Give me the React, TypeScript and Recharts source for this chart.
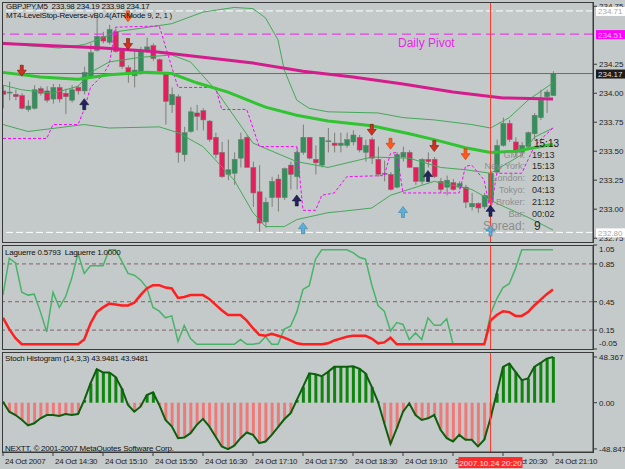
import React from "react";
import { ComposedChart, Bar, Line, XAxis, YAxis, ReferenceLine, Cell } from "recharts";

// GBPJPY M5, one entry per bar (13:50 .. 21:10)
const opens = [
  234.02, 234.01, 233.99, 233.98, 233.86, 233.87, 234.04, 234.02, 233.95, 234.05,
  234.0, 233.94, 234.05, 234.02, 234.14, 234.37, 234.49, 234.44, 234.53, 234.37,
  234.22, 234.15, 234.18, 234.37, 234.41, 234.29, 234.18, 233.9, 233.97, 233.47,
  233.67, 233.83, 233.85, 233.76, 233.62, 233.49, 233.3, 233.31, 233.44, 233.62,
  233.36, 233.15, 232.89, 233.1, 233.26, 233.1, 233.38, 233.28, 233.49, 233.62,
  233.43, 233.38, 233.59, 233.57, 233.55, 233.55, 233.58, 233.62, 233.49, 233.6,
  233.43, 233.3, 233.3, 233.19, 233.45, 233.49, 233.36, 233.24, 233.43, 233.43,
  233.24, 233.19, 233.23, 233.19, 233.19, 233.02, 233.05, 233.02, 233.06, 233.32,
  233.55, 233.74, 233.58, 233.49, 233.54, 233.65, 233.79, 233.97, 233.98,
];
const highs = [
  234.07, 234.1, 234.03, 234.0, 233.94, 234.07, 234.06, 234.06, 234.08, 234.08,
  234.04, 234.07, 234.07, 234.23, 234.43, 234.67, 234.53, 234.59, 234.56, 234.37,
  234.24, 234.37, 234.4, 234.48, 234.43, 234.3, 234.18, 234.05, 233.99, 233.71,
  233.88, 233.9, 233.87, 233.77, 233.66, 233.58, 233.6, 233.49, 233.66, 233.64,
  233.41, 233.38, 233.1, 233.28, 233.3, 233.36, 233.41, 233.53, 233.73, 233.62,
  233.55, 233.62, 233.7, 233.66, 233.66, 233.66, 233.68, 233.64, 233.6, 233.62,
  233.54, 233.42, 233.32, 233.49, 233.54, 233.51, 233.36, 233.44, 233.49, 233.45,
  233.27, 233.29, 233.26, 233.24, 233.21, 233.14, 233.06, 233.14, 233.33, 233.6,
  233.79, 233.77, 233.62, 233.58, 233.67, 233.83, 234.03, 234.03, 234.19,
];
const lows = [
  233.87, 233.94, 233.94, 233.86, 233.84, 233.86, 233.98, 233.92, 233.91, 233.92,
  233.82, 233.92, 233.99, 233.99, 234.13, 234.36, 234.43, 234.42, 234.35, 234.21,
  234.09, 234.05, 234.16, 234.35, 234.28, 234.18, 233.73, 233.83, 233.4, 233.41,
  233.66, 233.68, 233.68, 233.58, 233.44, 233.27, 233.25, 233.21, 233.36, 233.36,
  233.02, 232.8, 232.84, 233.02, 232.98, 233.08, 233.17, 233.17, 233.47, 233.43,
  233.3, 233.36, 233.49, 233.49, 233.49, 233.53, 233.55, 233.49, 233.41, 233.39,
  233.28, 233.24, 233.16, 233.18, 233.41, 233.36, 233.21, 233.21, 233.36, 233.27,
  233.14, 233.12, 233.16, 233.17, 233.01, 232.99, 232.97, 233.0, 232.99, 233.31,
  233.54, 233.58, 233.45, 233.45, 233.53, 233.6, 233.77, 233.83, 233.98,
];
const closes = [
  233.99, 234.01, 233.97, 233.87, 233.89, 234.03, 234.0, 233.94, 234.05, 233.95,
  233.97, 234.03, 234.02, 234.18, 234.35, 234.49, 234.45, 234.55, 234.36, 234.23,
  234.18, 234.2, 234.37, 234.4, 234.3, 234.19, 233.93, 233.99, 233.49, 233.66,
  233.84, 233.8, 233.77, 233.6, 233.47, 233.28, 233.34, 233.43, 233.6, 233.36,
  233.14, 232.88, 233.06, 233.24, 233.1, 233.35, 233.3, 233.49, 233.62, 233.44,
  233.4, 233.62, 233.59, 233.55, 233.57, 233.6, 233.64, 233.51, 233.55, 233.44,
  233.3, 233.31, 233.17, 233.47, 233.49, 233.36, 233.24, 233.43, 233.41, 233.28,
  233.17, 233.25, 233.17, 233.22, 233.06, 233.05, 233.01, 233.12, 233.31, 233.55,
  233.74, 233.6, 233.49, 233.55, 233.66, 233.81, 233.94, 234.01, 234.17,
];

// overlays on the price panel: [bar index, price]
const magentaMA = [
  [0, 234.43], [8, 234.41], [16, 234.39], [24, 234.36], [32, 234.31], [40, 234.26],
  [48, 234.19], [56, 234.14], [64, 234.08], [72, 234.01], [80, 233.96], [88, 233.95],
];
const greenMA = [
  [0, 234.18], [6, 234.14], [12, 234.12], [17, 234.16], [23, 234.18], [27, 234.17],
  [31, 234.09], [36, 234.01], [42, 233.88], [47, 233.81], [52, 233.76], [59, 233.72],
  [65, 233.65], [69, 233.6], [74, 233.53], [78, 233.49], [82, 233.5], [85, 233.53], [88, 233.56],
];
const upperBand = [
  [0, 234.44], [4, 234.41], [9, 234.39], [13, 234.42], [16, 234.48], [18, 234.53],
  [22, 234.56], [27, 234.6], [32, 234.7], [37, 234.74], [40, 234.73], [42, 234.65],
  [44, 234.46], [45, 234.2], [47, 233.94], [49, 233.87], [52, 233.84], [60, 233.83],
  [64, 233.79], [69, 233.77], [75, 233.73], [78, 233.7], [81, 233.79], [84, 233.94], [88, 234.09],
];
const middleBand = [
  [0, 234.07], [3, 234.03], [8, 234.0], [12, 234.06], [14, 234.18], [17, 234.27],
  [22, 234.31], [27, 234.33], [30, 234.27], [34, 234.03], [40, 233.57], [47, 233.41],
  [52, 233.36], [59, 233.45], [65, 233.44], [70, 233.36], [74, 233.34], [78, 233.31],
  [83, 233.47], [85, 233.62], [88, 233.7],
];
const lowerBand = [
  [0, 233.73], [4, 233.67], [13, 233.73], [17, 233.7], [25, 233.71], [28, 233.66],
  [32, 233.54], [37, 233.25], [40, 232.97], [42, 232.85], [45, 232.85], [47, 232.91],
  [52, 232.97], [54, 232.98], [59, 233.01], [62, 233.12], [69, 233.24], [75, 233.17],
  [79, 233.05], [84, 232.93], [88, 232.82],
];
const levelStop = [
  [0, 233.61], [7, 233.61], [8, 233.73], [12, 233.73], [13, 233.86], [14, 234.05],
  [16, 234.16], [17, 234.25], [18, 234.57], [25, 234.58], [28, 234.05], [34, 234.05],
  [35, 233.86], [39, 233.86], [41, 233.54], [47, 233.54], [48, 232.99], [50, 232.99],
  [51, 233.12], [53, 233.14], [55, 233.28], [61, 233.29], [62, 233.48], [63, 233.49],
  [64, 233.14], [73, 233.14], [74, 233.37], [75, 233.38], [77, 233.25], [78, 232.97],
  [79, 233.31], [83, 233.31], [85, 233.54], [86, 233.6], [88, 233.7],
];
const sellArrows = [[3, 234.19], [20, 234.42], [59, 233.68], [69, 233.54]];
const sellArrows2 = [[20, 234.66], [62, 233.56], [74, 233.47]];
const buyArrows = [[13, 233.91], [47, 233.08], [68, 233.29], [78, 232.99]];
const buyArrows2 = [[48, 232.84], [64, 232.98], [78, 232.82]];
const priceTicks = [232.75, 233.0, 233.25, 233.5, 233.75, 234.0, 234.25, 234.75];
const priceTags = [
  { p: 234.71, text: "234.71", bg: "#ffffff", fg: "#a8a8a8" },
  { p: 234.51, text: "234.51", bg: "#ff00ff", fg: "#ffc8ff" },
  { p: 234.17, text: "234.17", bg: "#1c1c1c", fg: "#dcdcdc" },
  { p: 232.8, text: "232.80", bg: "#ffffff", fg: "#a8a8a8" },
];

// Laguerre panel
const lagRed = [
  0.28, 0.16, 0.065, 0, 0, 0, 0, 0, 0, 0, 0, 0, 0, 0.05, 0.22, 0.34, 0.39, 0.43, 0.42, 0.41,
  0.41, 0.44, 0.52, 0.59, 0.625, 0.625, 0.6, 0.59, 0.49, 0.5, 0.52, 0.52, 0.52, 0.48, 0.42, 0.36,
  0.31, 0.31, 0.31, 0.25, 0.17, 0.1, 0.09, 0.11, 0.09, 0.07, 0.04, 0.01, 0, 0, 0, 0, 0.01, 0.04,
  0.06, 0.08, 0.09, 0.09, 0.09, 0.06, 0.01, 0.02, 0.07, 0, 0, 0, 0, 0, 0, 0, 0, 0, 0, 0, 0, 0,
  0, 0, 0.25, 0.31, 0.35, 0.34, 0.3, 0.3, 0.34, 0.41, 0.47, 0.53, 0.58,
];
const lagGreen = [
  0.52, 0.91, 0.86, 0.55, 0.52, 0.53, 0.34, 0.13, 0.55, 0.39, 0.5, 0.7, 0.96, 0.75, 0.83, 0.83,
  0.83, 1, 1, 0.88, 0.75, 0.73, 0.68, 0.6, 0.39, 0.35, 0.28, 0.3, 0.03, 0.2, 0.06, 0, 0, 0, 0, 0,
  0, 0, 0.05, 0, 0, 0.01, 0.08, 0, 0, 0.16, 0.19, 0.34, 0.58, 0.62, 0.9, 1, 1, 1, 1, 1, 0.97,
  0.92, 0.9, 0.63, 0.41, 0.35, 0.14, 0.23, 0.21, 0.05, 0.12, 0.05, 0.28, 0.2, 0.2, 0.27, 0, 0, 0,
  0, 0, 0, 0.32, 0.48, 0.6, 0.64, 0.8, 1, 1, 1, 1, 1, 1,
];
const lagLevels = [0.85, 0.45, 0.15];
const lagTicks = [-0.05, 0.15, 0.45, 0.85, 1.05];

// Stoch histogram panel
const stochVals = [
  1, -9.5, -13, -18, -24, -21.7, -16.5, -13, -13, -14, -11.9, -13, -12, 2.8, 20.4, 35.4, 32, 32,
  27.3, 15, -2.4, -9.5, -4.2, 8.1, 10.9, -2.4, -18.2, -25, -37.5, -36.8, -32.2, -23.4, -17.1, -25,
  -35.7, -46.2, -49, -45.5, -37.5, -31.5, -34, -42.7, -41, -34, -25.9, -17.5, -11.2, 2.8, 16.8, 31,
  30, 28, 32.6, 37.9, 37.9, 37.9, 38.6, 36.1, 30.9, 16.8, 1, -21.7, -43.4, -27, -9.5, -0.6, -13,
  -18.2, -16.5, -13, -28.7, -37.5, -41, -34, -39.2, -39.2, -46.2, -39.2, -16.5, 9.9, 37.9, 41.4,
  32.6, 23.9, 25.6, 37.9, 42, 46.6, 48.4,
];
const stochTicks = [-48.8478, 0, 48.367];
const stochTickLabels = ["-48.8478", "0.00", "48.367"];

const timeTicks = [0, 8, 16, 24, 32, 40, 48, 56, 64, 72, 80, 88];
const timeLabels = [
  "24 Oct 2007", "24 Oct 14:30", "24 Oct 15:10", "24 Oct 15:50", "24 Oct 16:30", "24 Oct 17:10",
  "24 Oct 17:50", "24 Oct 18:30", "24 Oct 19:10", "24 Oct 19:50", "24 Oct 20:30", "24 Oct 21:10",
];
const cursorBar = 78;
const cursorLabel = "2007.10.24 20:20";

const clockLabels = ["GMT:", "New York:", "London:", "Tokyo:", "Broker:", "Bar:"];
const clockValues = ["19:13", "15:13", "20:13", "04:13", "21:12", "00:02"];

const BG = "#c4caca";
const FONT = '"Liberation Sans", Arial, sans-serif';
const X_DOMAIN: [number, number] = [-0.16, 94.4];
const PRICE_DOMAIN: [number, number] = [232.717, 234.787];
const LAG_DOMAIN: [number, number] = [-0.0501, 1.0501];
const STOCH_DOMAIN: [number, number] = [-52.1, 53.6];

const pts = (arr: number[][]) => arr.map(([i, v]) => ({ i, v }));
const candles = opens.map((o, i) => ({ i, open: o, high: highs[i], low: lows[i], close: closes[i] }));
const lagData = lagRed.map((r, i) => ({ i, red: r, green: lagGreen[i] }));
const stochData = stochVals.map((v, i) => ({ i, v }));

const Candle = (props: any) => {
  const { x, y, width, height, payload } = props;
  if (x == null || !payload) return null;
  const top = Math.min(y, y + height);
  const h = Math.abs(height);
  const { open, close, high, low } = payload;
  const k = h / (high - low);
  const py = (v: number) => top + (high - v) * k;
  const up = close >= open;
  const bTop = py(Math.max(open, close));
  const bBot = py(Math.min(open, close));
  const cx = x + width / 2;
  return (
    <g>
      <line x1={cx} x2={cx} y1={top} y2={top + h} stroke="#7e7e76" strokeWidth={1} />
      <rect
        x={x}
        y={bTop}
        width={width}
        height={Math.max(1, bBot - bTop)}
        fill={up ? "#33905a" : "#e41f5a"}
        stroke="#707872"
        strokeWidth={0.5}
      />
    </g>
  );
};

const Arrow = ({ cx, cy, dir, fill, edge }: any) => {
  if (cx == null || cy == null) return null;
  const d =
    dir === "down"
      ? `M${cx - 1.5},${cy - 6} L${cx + 1.5},${cy - 6} L${cx + 1.5},${cy - 1} L${cx + 4.5},${cy - 1} L${cx},${cy + 5} L${cx - 4.5},${cy - 1} L${cx - 1.5},${cy - 1} Z`
      : `M${cx - 1.5},${cy + 6} L${cx + 1.5},${cy + 6} L${cx + 1.5},${cy + 1} L${cx + 4.5},${cy + 1} L${cx},${cy - 5} L${cx - 4.5},${cy + 1} L${cx - 1.5},${cy + 1} Z`;
  return <path d={d} fill={fill} stroke={edge} strokeWidth={0.6} />;
};

const arrowDot = (dir: string, fill: string, edge: string) => (p: any) =>
  <Arrow key={`${dir}${fill}${p.index}`} cx={p.cx} cy={p.cy} dir={dir} fill={fill} edge={edge} />;

const PriceTag = ({ viewBox, text, bg, fg }: any) => {
  if (!viewBox) return null;
  const x = viewBox.x + viewBox.width + 3;
  const y = viewBox.y;
  return (
    <g>
      <rect x={x} y={y - 4} width={29} height={9} fill={bg} />
      <text x={x + 2} y={y + 3.5} fontSize={8} fill={fg}>{text}</text>
    </g>
  );
};

const TimeTag = ({ viewBox }: any) => {
  if (!viewBox) return null;
  const x = viewBox.x;
  const y = viewBox.y + viewBox.height;
  return (
    <g>
      <rect x={x - 32} y={y + 5} width={64} height={11} fill="#ff2b2b" />
      <text x={x} y={y + 13.5} fontSize={8} fill="#ffe8e8" textAnchor="middle">{cursorLabel}</text>
    </g>
  );
};

const LagTick = ({ x, y, payload }: any) => {
  const v = payload.value;
  const dy = v >= 1.0 ? 7 : v < 0 ? -3 : 3;
  return <text x={x} y={y + dy} fontSize={8} fill="#1e1e1e">{v.toFixed(2)}</text>;
};

const StochTick = ({ x, y, payload }: any) => (
  <text x={x} y={y + 3} fontSize={8} fill="#1e1e1e">
    {stochTickLabels[stochTicks.indexOf(payload.value)]}
  </text>
);

const TimeTick = ({ x, y, payload }: any) => (
  <text x={x + 2} y={y + 8} fontSize={8} letterSpacing={-0.3} fill="#1e1e1e">
    {timeLabels[timeTicks.indexOf(payload.value)]}
  </text>
);

const txt = (left: number, cy: number, size: number, color: string, extra: any = {}) => ({
  position: "absolute" as const,
  left,
  top: cy - size * 0.6,
  fontSize: size,
  lineHeight: `${size * 1.2}px`,
  color,
  whiteSpace: "pre" as const,
  ...extra,
});

const frame = (top: number, height: number) => ({
  position: "absolute" as const,
  left: 2,
  top,
  width: 592,
  height,
  border: "1px solid #3a3a3a",
  boxSizing: "border-box" as const,
  pointerEvents: "none" as const,
});

const layer = (top: number) => ({ position: "absolute" as const, left: 0, top });

// blank axis used by the overlay layers so they share the panel geometry
const blankY = (domain: [number, number]) => (
  <YAxis orientation="right" width={32} domain={domain} allowDataOverflow tick={false} tickLine={false} axisLine={false} />
);

export default function App() {
  return (
    <div
      style={{
        position: "absolute",
        left: 0,
        top: 0,
        width: 625,
        height: 469,
        background: BG,
        overflow: "hidden",
        fontFamily: FONT,
      }}
    >
      {/* price panel */}
      <div style={layer(0)}>
        <ComposedChart width={625} height={244} data={candles} margin={{ top: 2, right: 0, bottom: 2, left: 2 }}>
          <XAxis dataKey="i" type="number" domain={X_DOMAIN} allowDataOverflow hide />
          <YAxis
            orientation="right"
            width={32}
            domain={PRICE_DOMAIN}
            allowDataOverflow
            ticks={priceTicks}
            interval={0}
            tickFormatter={(v: number) => v.toFixed(2)}
            tick={{ fontSize: 8, fill: "#1e1e1e" }}
            tickSize={4}
            axisLine={{ stroke: "#3a3a3a" }}
            tickLine={{ stroke: "#3a3a3a" }}
          />
          <ReferenceLine y={234.71} stroke="#ffffff" strokeDasharray="7 3" />
          <ReferenceLine y={234.51} stroke="#ee22ee" strokeDasharray="9 5" />
          <ReferenceLine y={234.17} stroke="#6c6c6c" />
          <ReferenceLine y={232.8} stroke="#ffffff" strokeDasharray="7 3" />
          <Line data={pts(upperBand)} dataKey="v" stroke="#45a85a" strokeWidth={1} dot={false} isAnimationActive={false} />
          <Line data={pts(middleBand)} dataKey="v" stroke="#45a85a" strokeWidth={1} dot={false} isAnimationActive={false} />
          <Line data={pts(lowerBand)} dataKey="v" stroke="#45a85a" strokeWidth={1} dot={false} isAnimationActive={false} />
          <Bar dataKey={(d: any) => [d.low, d.high]} barSize={5} shape={<Candle />} isAnimationActive={false} />
          <Line data={pts(levelStop)} dataKey="v" stroke="#ff00ff" strokeDasharray="3 2" strokeWidth={1} dot={false} isAnimationActive={false} />
          <Line data={pts(magentaMA)} dataKey="v" stroke="#d41c8c" strokeWidth={3} dot={false} isAnimationActive={false} />
          <Line data={pts(greenMA)} dataKey="v" stroke="#30c430" strokeWidth={3} dot={false} isAnimationActive={false} />
          <ReferenceLine x={cursorBar} stroke="#ff3b2f" />
          <Line data={pts(sellArrows)} dataKey="v" stroke="none" dot={arrowDot("down", "#d0321e", "#7a1010")} isAnimationActive={false} />
          <Line data={pts(sellArrows2)} dataKey="v" stroke="none" dot={arrowDot("down", "#ff5a1e", "#c83a10")} isAnimationActive={false} />
          <Line data={pts(buyArrows)} dataKey="v" stroke="none" dot={arrowDot("up", "#23235f", "#101030")} isAnimationActive={false} />
          <Line data={pts(buyArrows2)} dataKey="v" stroke="none" dot={arrowDot("up", "#5ab0d8", "#3a80a8")} isAnimationActive={false} />
        </ComposedChart>
      </div>
      {/* price tags on top of the axis labels */}
      <div style={layer(0)}>
        <ComposedChart width={625} height={244} data={candles} margin={{ top: 2, right: 0, bottom: 2, left: 2 }}>
          <XAxis dataKey="i" type="number" domain={X_DOMAIN} allowDataOverflow hide />
          {blankY(PRICE_DOMAIN)}
          {priceTags.map((t) => (
            <ReferenceLine key={t.text} y={t.p} stroke="none" label={<PriceTag text={t.text} bg={t.bg} fg={t.fg} />} />
          ))}
        </ComposedChart>
      </div>

      {/* Laguerre panel */}
      <div style={layer(243)}>
        <ComposedChart width={625} height={108} data={lagData} margin={{ top: 2, right: 0, bottom: 2, left: 2 }}>
          <XAxis dataKey="i" type="number" domain={X_DOMAIN} allowDataOverflow hide />
          <YAxis
            orientation="right"
            width={32}
            domain={LAG_DOMAIN}
            allowDataOverflow
            ticks={lagTicks}
            interval={0}
            tick={<LagTick />}
            tickSize={4}
            axisLine={{ stroke: "#3a3a3a" }}
            tickLine={{ stroke: "#3a3a3a" }}
          />
          {lagLevels.map((lv) => (
            <ReferenceLine key={lv} y={lv} stroke="#80606a" strokeDasharray="4 3" />
          ))}
          <Line dataKey="green" stroke="#48b46a" strokeWidth={1.5} dot={false} isAnimationActive={false} />
          <Line dataKey="red" stroke="#ff1f1f" strokeWidth={2.5} dot={false} isAnimationActive={false} />
          <ReferenceLine x={cursorBar} stroke="#ff3b2f" />
        </ComposedChart>
      </div>

      {/* Stoch histogram panel */}
      <div style={layer(350)}>
        <ComposedChart width={625} height={119} data={stochData} margin={{ top: 2, right: 0, bottom: 0, left: 2 }}>
          <XAxis
            dataKey="i"
            type="number"
            domain={X_DOMAIN}
            allowDataOverflow
            ticks={timeTicks}
            interval={0}
            height={17}
            tick={<TimeTick />}
            tickSize={4}
            tickMargin={0}
            axisLine={{ stroke: "#3a3a3a" }}
            tickLine={{ stroke: "#3a3a3a" }}
          />
          <YAxis
            orientation="right"
            width={32}
            domain={STOCH_DOMAIN}
            allowDataOverflow
            ticks={stochTicks}
            interval={0}
            tick={<StochTick />}
            tickSize={4}
            axisLine={{ stroke: "#3a3a3a" }}
            tickLine={{ stroke: "#3a3a3a" }}
          />
          <Bar dataKey="v" barSize={3} isAnimationActive={false}>
            {stochData.map((d) => (
              <Cell key={d.i} fill={d.v >= 0 ? "#0e860e" : "#f07878"} />
            ))}
          </Bar>
          <Line dataKey="v" stroke="#0d5e0d" strokeWidth={2} dot={false} isAnimationActive={false} />
          <ReferenceLine x={cursorBar} stroke="#ff3b2f" />
        </ComposedChart>
      </div>
      {/* cursor time tag on top of the time labels */}
      <div style={layer(350)}>
        <ComposedChart width={625} height={119} data={stochData} margin={{ top: 2, right: 0, bottom: 0, left: 2 }}>
          <XAxis dataKey="i" type="number" domain={X_DOMAIN} allowDataOverflow height={17} tick={false} tickLine={false} axisLine={false} />
          {blankY(STOCH_DOMAIN)}
          <ReferenceLine x={cursorBar} stroke="none" label={<TimeTag />} />
        </ComposedChart>
      </div>

      <div style={frame(2, 241)} />
      <div style={frame(245, 105)} />
      <div style={frame(352, 101)} />

      {/* texts */}
      <div style={{ position: "absolute", left: 0, top: 0, width: 625, height: 469, pointerEvents: "none" }}>
        <div style={txt(6, 7, 8, "#111", { letterSpacing: -0.25 })}>GBPJPY,M5  233.98 234.19 233.98 234.17</div>
        <div style={txt(6, 16, 8, "#111", { letterSpacing: -0.25 })}>MT4-LevelStop-Reverse-vB0.4(ATRMode 9, 2, 1 )</div>
        <div style={txt(398, 43, 12, "#ee22ee")}>Daily Pivot</div>
        <div style={txt(534, 144, 10, "#1a1a1a")}>15:13</div>
        {clockLabels.map((l, k) => (
          <div key={l} style={{ ...txt(0, 155 + k * 11.8, 9, "#8e8e8e"), width: 525, textAlign: "right" }}>{l}</div>
        ))}
        {clockValues.map((v, k) => (
          <div key={k} style={txt(532, 155 + k * 11.8, 9, "#2a2a2a")}>{v}</div>
        ))}
        <div style={{ ...txt(0, 226, 12, "#8e8e8e"), width: 525, textAlign: "right" }}>Spread:</div>
        <div style={txt(534, 226, 12, "#2a2a2a")}>9</div>
        <div style={txt(5, 253, 8, "#111", { letterSpacing: -0.2 })}>Laguerre 0.5793  Laguerre 1.0000</div>
        <div style={txt(5, 359, 8, "#111", { letterSpacing: -0.2 })}>Stoch Histogram (14,3,3) 43.9481 43.9481</div>
        <div style={txt(5, 449, 8, "#111", { letterSpacing: -0.2 })}>NEXTT, © 2001-2007 MetaQuotes Software Corp.</div>
      </div>
    </div>
  );
}
